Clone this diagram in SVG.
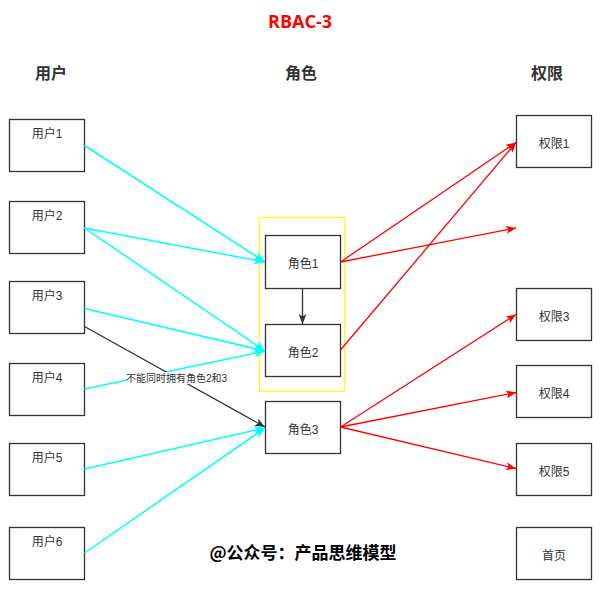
<svg xmlns="http://www.w3.org/2000/svg" width="604" height="597" viewBox="0 0 604 597">
<style>
.box{fill:#fff;stroke:#333;stroke-width:1.3}
.t{font-family:"Liberation Sans","Noto Sans CJK SC",sans-serif;font-size:12px;fill:#333;text-anchor:middle}
.h{font-family:"Noto Sans CJK SC",sans-serif;font-size:16px;font-weight:700;fill:#333;text-anchor:middle}
.cy{stroke:#00ffff;stroke-width:1.5;fill:none}
.rd{stroke:#ff0000;stroke-width:1.3;fill:none}
.dk{stroke:#333;stroke-width:1.3;fill:none}
</style>
<defs>
<marker id="aC" viewBox="0 0 10 8" refX="10" refY="4" markerWidth="11" markerHeight="9" markerUnits="userSpaceOnUse" orient="auto"><path d="M0,0 L10,4 L0,8 L2.5,4 z" fill="#00ffff"/></marker>
<marker id="aR" viewBox="0 0 10 8" refX="10" refY="4" markerWidth="11" markerHeight="8" markerUnits="userSpaceOnUse" orient="auto"><path d="M0,0 L10,4 L0,8 L2.5,4 z" fill="#ff0000"/></marker>
<marker id="aD" viewBox="0 0 10 8" refX="10" refY="4" markerWidth="11" markerHeight="8" markerUnits="userSpaceOnUse" orient="auto"><path d="M0,0 L10,4 L0,8 L2.5,4 z" fill="#333"/></marker>
</defs>
<rect width="604" height="597" fill="#fff"/>
<text x="300" y="27.5" font-family="'Open Sans','Noto Sans',sans-serif" font-size="18" font-weight="700" fill="#ff0000" text-anchor="middle">RBAC-3</text>
<text class="h" x="51" y="79">用户</text>
<text class="h" x="301" y="79">角色</text>
<text class="h" x="547" y="79">权限</text>
<rect id="group-box" x="259.5" y="217.5" width="85" height="174" fill="none" stroke="#ffff00" stroke-width="1.2"/>
<g id="u1"><rect class="box" x="9.5" y="119.5" width="75" height="52"/><text class="t" x="47" y="137.5">用户1</text></g>
<g id="u2"><rect class="box" x="9.5" y="201.5" width="75" height="52"/><text class="t" x="47" y="219.5">用户2</text></g>
<g id="u3"><rect class="box" x="9.5" y="281.5" width="75" height="52"/><text class="t" x="47" y="299.5">用户3</text></g>
<g id="u4"><rect class="box" x="9.5" y="363.5" width="75" height="52"/><text class="t" x="47" y="381.5">用户4</text></g>
<g id="u5"><rect class="box" x="9.5" y="443.5" width="75" height="52"/><text class="t" x="47" y="461.5">用户5</text></g>
<g id="u6"><rect class="box" x="9.5" y="527.5" width="75" height="52"/><text class="t" x="47" y="545.5">用户6</text></g>
<g id="r1"><rect class="box" x="265.5" y="235.5" width="75" height="53"/><text class="t" x="303" y="268">角色1</text></g>
<g id="r2"><rect class="box" x="265.5" y="324.5" width="75" height="52"/><text class="t" x="303" y="357">角色2</text></g>
<g id="r3"><rect class="box" x="265.5" y="401.5" width="75" height="52"/><text class="t" x="303" y="434">角色3</text></g>
<g id="p1"><rect class="box" x="516.5" y="115.5" width="75" height="52"/><text class="t" x="554" y="148">权限1</text></g>
<g id="p3"><rect class="box" x="516.5" y="288.5" width="75" height="52"/><text class="t" x="554" y="321">权限3</text></g>
<g id="p4"><rect class="box" x="516.5" y="365.5" width="75" height="52"/><text class="t" x="554" y="398">权限4</text></g>
<g id="p5"><rect class="box" x="516.5" y="443.5" width="75" height="52"/><text class="t" x="554" y="476">权限5</text></g>
<g id="home"><rect class="box" x="516.5" y="527.5" width="75" height="52"/><text class="t" x="554" y="560">首页</text></g>
<g id="connectors">
<line class="cy" x1="84.5" y1="145.5" x2="265" y2="262" marker-end="url(#aC)"/>
<line class="cy" x1="84.5" y1="228" x2="265" y2="262" marker-end="url(#aC)"/>
<line class="cy" x1="84.5" y1="228" x2="265" y2="351" marker-end="url(#aC)"/>
<line class="cy" x1="84.5" y1="308.5" x2="265" y2="351" marker-end="url(#aC)"/>
<line class="cy" x1="84.5" y1="389" x2="265" y2="351" marker-end="url(#aC)"/>
<line class="cy" x1="84.5" y1="469" x2="265" y2="428" marker-end="url(#aC)"/>
<line class="cy" x1="84.5" y1="553" x2="265" y2="428" marker-end="url(#aC)"/>
<line class="dk" x1="84.5" y1="326.5" x2="265" y2="427" marker-end="url(#aD)"/>
<line class="dk" x1="302.5" y1="288.5" x2="302.5" y2="324" marker-end="url(#aD)"/>
<line class="rd" x1="340.5" y1="262" x2="516" y2="142.5" marker-end="url(#aR)"/>
<line class="rd" x1="340.5" y1="262" x2="516" y2="228" marker-end="url(#aR)"/>
<line class="rd" x1="340.5" y1="350" x2="516" y2="142.5" marker-end="url(#aR)"/>
<line class="rd" x1="340.5" y1="427" x2="516" y2="314.5" marker-end="url(#aR)"/>
<line class="rd" x1="340.5" y1="427" x2="516" y2="392.5" marker-end="url(#aR)"/>
<line class="rd" x1="340.5" y1="427" x2="516" y2="468.5" marker-end="url(#aR)"/>
<rect x="127" y="372" width="99" height="12" fill="#fff"/>
<text x="176.5" y="382" font-family="'Liberation Sans','Noto Sans CJK SC',sans-serif" font-size="10" fill="#333" text-anchor="middle">不能同时拥有角色2和3</text>
</g>
<text x="303" y="559" font-family="'Noto Sans CJK SC',serif" font-size="17" font-weight="700" fill="#000" text-anchor="middle">@公众号：产品思维模型</text>
</svg>
